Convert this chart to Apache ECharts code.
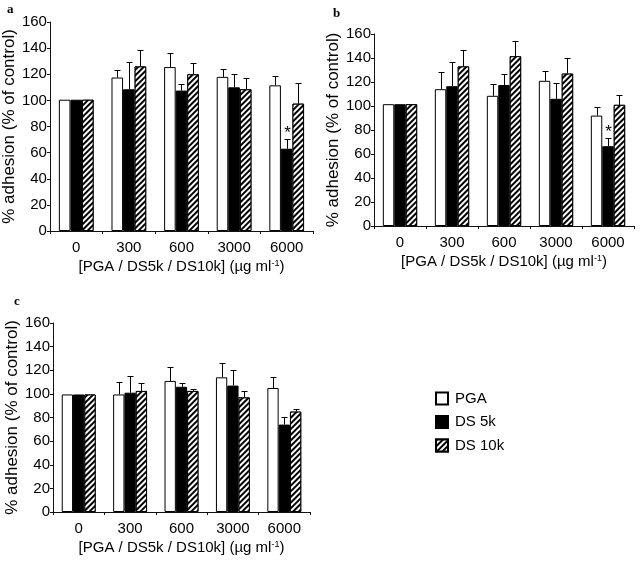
<!DOCTYPE html>
<html>
<head>
<meta charset="utf-8">
<script src="https://cdn.jsdelivr.net/npm/echarts@6/dist/echarts.min.js"></script>
<style>html,body{margin:0;padding:0;background:#fff}#chart{width:640px;height:561px}</style>
</head>
<body>
<div id="chart"></div>
<script>
// ---- data ----
const categories = ['0', '300', '600', '3000', '6000'];
const seriesNames = ['PGA', 'DS 5k', 'DS 10k'];
const yTicks = [0, 20, 40, 60, 80, 100, 120, 140, 160];

// panel a
const aPGA      = [100.5, 117.5, 125.5, 118, 111.5];
const aPGAErr   = [null, 123, 136, 124, 118.5];
const aDS5k     = [100.5, 108.5, 107.5, 110, 63];
const aDS5kErr  = [null, 129.5, 112.5, 120, 70.5];
const aDS10k    = [100.5, 126, 120, 108.5, 97.5];
const aDS10kErr = [null, 138.5, 128.5, 117.5, 113];
const aStars5k  = ['', '', '', '', '*'];

// panel b
const bPGA      = [101.5, 114, 108.5, 121, 92];
const bPGAErr   = [null, 128, 118, 129.5, 99];
const bDS5k     = [101.5, 116.5, 117.5, 106, 66.5];
const bDS5kErr  = [null, 136.5, 126.5, 119.5, 73];
const bDS10k    = [101.5, 133, 141.5, 127, 101];
const bDS10kErr = [null, 146.5, 154, 140, 109];
const bStars5k  = ['', '', '', '', '*'];

// panel c
const cPGA      = [99.5, 99.5, 111, 114, 105];
const cPGAErr   = [null, 110, 123, 126, 114.5];
const cDS5k     = [99.5, 101, 106, 107, 74];
const cDS5kErr  = [null, 115.5, 109.5, 120, 80.5];
const cDS10k    = [99.5, 102.5, 102.5, 97, 85];
const cDS10kErr = [null, 109.5, 104, 102.5, 87.5];

const xTitle = '[PGA / DS5k / DS10k] (µg ml{sup|-1})';
const yTitle = '% adhesion (% of control)';

// ---- styles ----
const FONT = 'Liberation Sans, Arial, sans-serif';
const BAR_FRAC = 0.22;
const hatch = {
  symbol: 'rect', symbolSize: 1, color: '#000', backgroundColor: '#fff',
  dashArrayX: [1, 0], dashArrayY: [1.2, 1.8], rotation: -Math.PI / 4
};
const barStyles = [
  {color: '#fff', borderColor: '#000', borderWidth: 1},
  {color: '#000', borderColor: '#000', borderWidth: 1},
  {color: '#fff', borderColor: '#000', borderWidth: 1, decal: hatch}
];

const grids = [
  {left: 41, top: 22, width: 272, height: 209},
  {left: 374, top: 34, width: 260, height: 192},
  {left: 53, top: 323, width: 257, height: 189}
];
const yNameGaps = [18, 32, 22];

function xAxisFor(i) {
  return {
    type: 'category', gridIndex: i, data: categories,
    axisLine: {lineStyle: {color: '#111', width: 1}},
    axisTick: {show: true, length: 3, lineStyle: {color: '#111'}},
    axisLabel: {color: '#000', fontSize: 15, fontFamily: FONT, margin: 9},
    name: xTitle, nameLocation: 'middle', nameGap: 28,
    nameTextStyle: {color: '#000', fontSize: 15, fontFamily: FONT,
      rich: {sup: {fontSize: 9, verticalAlign: 'top', color: '#000', fontFamily: FONT, padding: [0, 0, 6, 0]}}}
  };
}
function yAxisFor(i) {
  return {
    type: 'value', gridIndex: i, min: yTicks[0], max: yTicks[yTicks.length - 1], interval: 20,
    splitLine: {show: false},
    axisLine: {show: true, lineStyle: {color: '#111', width: 1}},
    axisTick: {show: true, length: 3, lineStyle: {color: '#111'}},
    axisLabel: {color: '#000', fontSize: 15, fontFamily: FONT, margin: 3},
    name: yTitle, nameLocation: 'middle', nameGap: yNameGaps[i], nameRotate: 90,
    nameTextStyle: {color: '#000', fontSize: 17, fontFamily: FONT}
  };
}

function barSeries(ax, k, values) {
  return {
    type: 'bar', name: seriesNames[k], xAxisIndex: ax, yAxisIndex: ax,
    data: values, barGap: '0%', barCategoryGap: '34%',
    itemStyle: barStyles[k], silent: true, animation: false
  };
}
function errSeries(ax, k, means, errs, stars) {
  return {
    type: 'custom', name: 'err' + ax + k, xAxisIndex: ax, yAxisIndex: ax, z: 10,
    silent: true, animation: false,
    data: means.map((m, i) => [i, m, errs[i] == null ? m : errs[i]]),
    renderItem(params, api) {
      const i = api.value(0);
      const band = api.size([1, 0])[0];
      const cx = Math.round(api.coord([i, 0])[0] + (k - 1) * band * BAR_FRAC) + 0.5;
      const yTop = api.coord([i, api.value(1)])[1];
      const yErr = Math.round(api.coord([i, api.value(2)])[1]) + 0.5;
      const ch = [];
      if (errs[i] != null) {
        ch.push({type: 'line', shape: {x1: cx, y1: yTop, x2: cx, y2: yErr}, style: {stroke: '#000', lineWidth: 1}});
        ch.push({type: 'line', shape: {x1: cx - 3, y1: yErr, x2: cx + 3, y2: yErr}, style: {stroke: '#000', lineWidth: 1}});
      }
      if (stars && stars[i]) {
        ch.push({type: 'text', style: {text: stars[i], x: cx, y: yErr + 2, align: 'center', verticalAlign: 'bottom',
          font: '17px ' + FONT, fill: '#000'}});
      }
      return {type: 'group', children: ch};
    }
  };
}

const panels = [
  [[aPGA, aPGAErr, null], [aDS5k, aDS5kErr, aStars5k], [aDS10k, aDS10kErr, null]],
  [[bPGA, bPGAErr, null], [bDS5k, bDS5kErr, bStars5k], [bDS10k, bDS10kErr, null]],
  [[cPGA, cPGAErr, null], [cDS5k, cDS5kErr, null], [cDS10k, cDS10kErr, null]]
];
const series = [];
panels.forEach((p, ax) => p.forEach((s, k) => series.push(barSeries(ax, k, s[0]))));
panels.forEach((p, ax) => p.forEach((s, k) => series.push(errSeries(ax, k, s[0], s[1], s[2]))));

const labelStyle = {fontFamily: 'Liberation Serif, serif', fontWeight: 'bold', fontSize: 13, color: '#000'};
const option = {
  backgroundColor: '#fff',
  animation: false,
  title: [
    {text: 'a', left: 2, top: -2, textStyle: labelStyle},
    {text: 'b', left: 328, top: 2, textStyle: labelStyle},
    {text: 'c', left: 9, top: 290, textStyle: labelStyle}
  ],
  legend: {
    data: seriesNames, orient: 'vertical', left: 435, top: 391, padding: 0,
    itemWidth: 12, itemHeight: 12, itemGap: 8.5, icon: 'rect',
    textStyle: {color: '#000', fontSize: 15, fontFamily: FONT, padding: [0, 0, 0, 2]},
    selectedMode: false
  },
  grid: grids,
  xAxis: grids.map((g, i) => xAxisFor(i)),
  yAxis: grids.map((g, i) => yAxisFor(i)),
  series: series
};
const chart = echarts.init(document.getElementById('chart'), null, {renderer: 'canvas'});
chart.setOption(option);
</script>
</body>
</html>
